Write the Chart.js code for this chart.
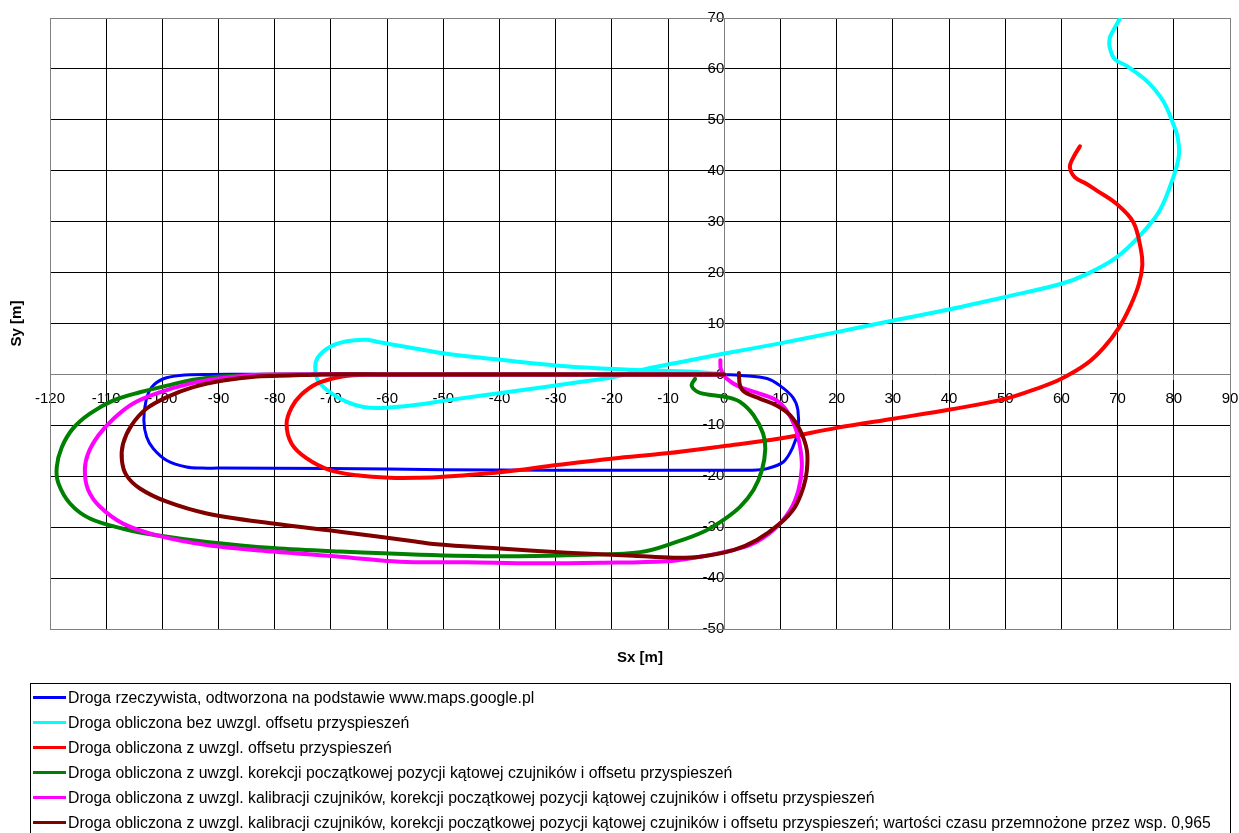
<!DOCTYPE html>
<html lang="pl">
<head>
<meta charset="utf-8">
<title>Sx / Sy</title>
<script src="https://cdn.jsdelivr.net/npm/chart.js@4.4.1/dist/chart.umd.min.js"></script>
<style>
  html, body { margin: 0; padding: 0; background: #fff; overflow: hidden; }
  #wrap { position: relative; width: 1239px; height: 833px; }
  #plot { position: absolute; left: 0; top: 0; }
  #legend {
    position: absolute; left: 30px; top: 683px; width: 1201px; height: 160px;
    border: 1px solid #000; box-sizing: border-box; padding-top: 1px;
    font-family: "Liberation Sans", Arial, sans-serif; font-size: 15.8px; color: #000;
  }
  #legend .row { height: 25px; line-height: 25px; white-space: nowrap; display: flex; align-items: center; }
  #legend .swatch { display: inline-block; width: 33px; height: 3px; margin-left: 2px; margin-right: 2px; }
</style>
</head>
<body>
<div id="wrap">
  <canvas id="plot" width="1239" height="833"></canvas>
  <div id="legend"></div>
</div>
<script>
// Axis ranges and titles
const xMin = -120, xMax = 90, xStep = 10;
const yMin = -50, yMax = 70, yStep = 10;
const xTitle = 'Sx [m]';
const yTitle = 'Sy [m]';

// Series names
const seriesNames = [
  'Droga rzeczywista, odtworzona na podstawie www.maps.google.pl',
  'Droga obliczona bez uwzgl. offsetu przyspieszeń',
  'Droga obliczona z uwzgl. offsetu przyspieszeń',
  'Droga obliczona z uwzgl. korekcji początkowej pozycji kątowej czujników i offsetu przyspieszeń',
  'Droga obliczona z uwzgl. kalibracji czujników, korekcji początkowej pozycji kątowej czujników i offsetu przyspieszeń',
  'Droga obliczona z uwzgl. kalibracji czujników, korekcji początkowej pozycji kątowej czujników i offsetu przyspieszeń; wartości czasu przemnożone przez wsp. 0,965'
];
const seriesColors = ['#0000ff', '#00ffff', '#ff0000', '#008000', '#ff00ff', '#800000'];

// Real path (map based)
const realX = [0, 3, 7.6, 9.9, 12.2, 13.1, 13.1, 12.2, 10.5, 7.6, 5, -10, -30, -50, -70, -90, -93, -95.7, -99.2, -101.6, -102.8, -103.3, -102.9, -101.9, -99.8, -96.9, -92, -80, -60, -40, -20, 0];
const realY = [0, -0.2, -0.8, -2.2, -4.5, -7, -11, -14.3, -17.2, -18.5, -18.8, -18.8, -18.8, -18.7, -18.5, -18.4, -18.4, -18.2, -16.9, -14.6, -12.3, -9, -5.1, -2.5, -0.85, -0.2, 0, 0, 0, 0, 0, 0];

// Computed without acceleration offset
const noOffsetX = [0, -4.3, -13.8, -25.7, -37.5, -49.4, -56, -61.3, -63.6, -67.2, -70.2, -72.3, -72.8, -72.3, -70.2, -67.2, -64.2, -61.3, -55, -49.4, -37.5, -25.7, -19.7, -13.8, -7.9, -0.2, 9.9, 20, 30.1, 40.2, 50, 60, 64.5, 69.8, 74, 77.5, 79.9, 80.9, 80.7, 79.9, 78.1, 75.2, 71.6, 69.5, 68.6, 68.6, 69.2, 70.3, 71.5];
const noOffsetY = [0, 0.45, 0.8, 1.4, 2.6, 4.05, 5.3, 6.3, 6.8, 6.5, 5.4, 3.4, 1.4, -1.2, -3.5, -5.4, -6.4, -6.6, -6, -5.1, -3.3, -1.5, -0.5, 1.1, 2.4, 4.05, 6.1, 8.3, 10.6, 12.8, 15.2, 17.8, 19.7, 23, 27.3, 32.2, 38.7, 43, 46.5, 49.2, 53.7, 57.6, 60.6, 61.9, 64.2, 66.1, 67.5, 69.7, 72];

// Computed with acceleration offset
const offsetX = [0, -30, -60, -65, -68.4, -72.5, -75.3, -77, -77.9, -77, -74.3, -70.2, -65.4, -59.5, -54.2, -50, -39.9, -29.8, -19.7, -10.3, -0.2, 9.9, 20, 30.1, 40.2, 50, 55.6, 60, 64.5, 67.5, 70.3, 72.3, 73.8, 74.4, 74.1, 72.8, 69.8, 66.3, 64.5, 62.4, 61.5, 62.1, 63.3];
const offsetY = [0, 0, 0, -0.1, -0.5, -1.8, -4, -6.5, -9.7, -13.6, -16.5, -18.8, -19.8, -20.3, -20.3, -20.1, -19.2, -17.8, -16.5, -15.5, -14.1, -12.6, -10.5, -8.7, -6.9, -4.8, -2.8, -0.85, 2.1, 5.2, 9.3, 13.5, 17.8, 21.5, 24.8, 29.9, 33.5, 36.1, 37.4, 38.7, 40.7, 42.6, 44.8];

// Initial angle correction + offset
const angleX = [0, -30, -60, -80, -85, -89.7, -94.5, -99.2, -104, -108.7, -112.9, -115.9, -117.9, -118.8, -118.5, -116.4, -112.9, -107, -101, -92.1, -80.3, -68.4, -54.2, -39.9, -28, -15, -8.5, -3.7, -0.2, 2.8, 5.2, 6.7, 7.3, 6.9, 5.2, 2.8, 0.4, -2, -4.6, -5.8, -5.2];
const angleY = [0, 0, 0, 0, -0.2, -0.4, -1.05, -2.2, -3.5, -5.1, -7.7, -10.6, -14.3, -18.2, -21.4, -25.4, -28.3, -30.3, -31.6, -32.9, -34.1, -34.8, -35.4, -35.7, -35.5, -34.9, -32.9, -30.9, -28.6, -26, -22.7, -18.8, -14.6, -11.6, -8, -5.4, -4.45, -4.1, -3.5, -2.2, -0.85];

// Sensor calibration + angle correction + offset
const calibX = [0, -30, -60, -80.3, -85, -90.3, -95.1, -100.4, -105.2, -108.7, -111.4, -113.2, -113.8, -113.2, -111.1, -107, -101, -92.1, -80.3, -68.4, -57.7, -45.8, -34, -22.1, -10.3, -4.3, -0.5, 4.6, 8.7, 11.7, 13.2, 13.8, 13.5, 12.6, 11.1, 9.3, 6.4, 2.8, 0.3, -0.6, -0.7];
const calibY = [0, 0, 0, 0, -0.2, -0.85, -1.8, -3.5, -5.7, -8.7, -12, -15.5, -18.8, -22.7, -26, -29.3, -31.6, -33.5, -34.8, -35.8, -36.8, -36.9, -37.1, -37, -36.7, -35.8, -35, -33.5, -30.6, -26.7, -22.7, -18.2, -14.3, -10.3, -7.1, -5.1, -3.8, -2.5, -0.7, 1, 2.8];

// As above, time scaled by 0.965
const scaledX = [0, -30, -60, -71.4, -77.3, -83.2, -89.2, -94.5, -99.2, -102.8, -105.5, -107, -107.2, -106.4, -104, -99.2, -92.1, -80.3, -68.4, -55, -51.8, -39.9, -28, -16.2, -9, -4.3, 1.6, 5.8, 9.9, 12.6, 14.1, 14.7, 14.7, 13.5, 11.7, 9.3, 6.4, 3.7, 2.8, 2.6];
const scaledY = [0, 0, 0, 0, -0.2, -0.4, -1.2, -2.5, -4.45, -6.7, -10, -13.6, -16.9, -19.8, -22.4, -25, -27.3, -29.3, -30.9, -32.8, -33.3, -34.2, -35, -35.6, -36, -35.8, -34.5, -32.5, -29.3, -26, -22.1, -18.8, -14.9, -11, -8, -6.1, -4.8, -3.5, -2.2, 0.3];

const seriesX = [realX, noOffsetX, offsetX, angleX, calibX, scaledX];
const seriesY = [realY, noOffsetY, offsetY, angleY, calibY, scaledY];
const seriesWidths = [3, 4, 4, 4, 4, 4];

const datasets = seriesNames.map((name, i) => ({
  label: name,
  data: seriesX[i].map((x, k) => ({ x: x, y: seriesY[i][k] })),
  showLine: true,
  borderColor: seriesColors[i],
  backgroundColor: seriesColors[i],
  borderWidth: seriesWidths[i],
  pointRadius: 0,
  tension: 0.35,
  borderCapStyle: 'round',
  borderJoinStyle: 'round',
  clip: 0,
  order: seriesNames.length - i
}));

// Grey frame round the plot area and the two axis titles
const framePlugin = {
  id: 'frame',
  beforeDatasetsDraw(chart) {
    const { ctx, chartArea: a } = chart;
    ctx.save();
    ctx.strokeStyle = '#808080';
    ctx.lineWidth = 1;
    ctx.strokeRect(Math.round(a.left) + 0.5, Math.round(a.top) + 0.5,
                   Math.round(a.right - a.left), Math.round(a.bottom - a.top));
    ctx.restore();
  },
  afterDraw(chart) {
    const { ctx, chartArea: a } = chart;
    ctx.save();
    ctx.fillStyle = '#000';
    ctx.font = 'bold 15px "Liberation Sans", Arial, sans-serif';
    ctx.textAlign = 'center';
    ctx.textBaseline = 'middle';
    ctx.fillText(xTitle, (a.left + a.right) / 2, 658);
    ctx.translate(17, (a.top + a.bottom) / 2);
    ctx.rotate(-Math.PI / 2);
    ctx.fillText(yTitle, 0, 0);
    ctx.restore();
  }
};

// End labels of the crossing axes may hang outside the frame
function noEdgePadding(scale) {
  scale.paddingLeft = 0;
  scale.paddingRight = 0;
  scale.paddingTop = 0;
  scale.paddingBottom = 0;
}

Chart.defaults.font.family = '"Liberation Sans", Arial, sans-serif';
Chart.defaults.font.size = 15;
Chart.defaults.color = '#000';

const chart = new Chart(document.getElementById('plot'), {
  type: 'scatter',
  data: { datasets: datasets },
  options: {
    responsive: false,
    animation: false,
    events: [],
    layout: { padding: { left: 50, right: 9, top: 18, bottom: 204 } },
    plugins: { legend: { display: false }, tooltip: { enabled: false } },
    scales: {
      x: {
        type: 'linear',
        min: xMin, max: xMax,
        position: { y: 0 },
        afterFit: noEdgePadding,
        ticks: { stepSize: xStep, autoSkip: false, maxRotation: 0, padding: 10 },
        grid: { color: '#000', lineWidth: 1, tickLength: 5, tickColor: '#808080' },
        border: { color: '#808080', width: 1 }
      },
      y: {
        type: 'linear',
        min: yMin, max: yMax,
        position: { x: 0 },
        afterFit: noEdgePadding,
        ticks: { stepSize: yStep, autoSkip: false, padding: 5 },
        grid: { color: '#000', lineWidth: 1, tickLength: 6, tickColor: '#808080' },
        border: { color: '#808080', width: 1 }
      }
    }
  },
  plugins: [framePlugin]
});

// Legend listing, built from the chart's datasets
const legendEl = document.getElementById('legend');
chart.data.datasets.forEach(ds => {
  const row = document.createElement('div');
  row.className = 'row';
  const sw = document.createElement('span');
  sw.className = 'swatch';
  sw.style.background = ds.borderColor;
  const tx = document.createElement('span');
  tx.textContent = ds.label;
  row.appendChild(sw);
  row.appendChild(tx);
  legendEl.appendChild(row);
});
</script>
</body>
</html>
